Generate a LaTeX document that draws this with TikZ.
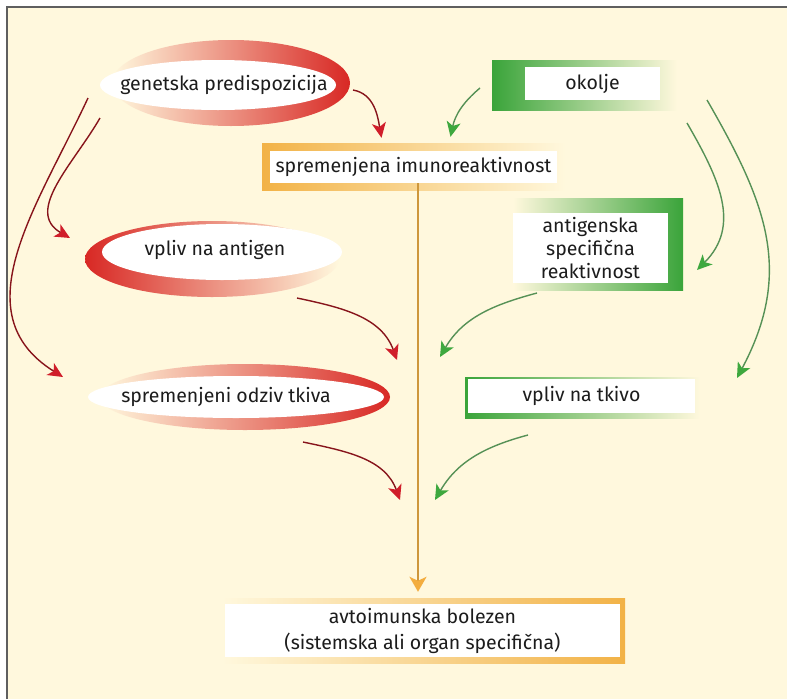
\documentclass[tikz,border=0pt]{standalone}
\usepackage{fontspec}
\setmainfont{Fira Sans}
\usepackage{tikz}
\usetikzlibrary{arrows.meta,positioning}
\definecolor{bgcream}{RGB}{255,248,221}
\definecolor{framegray}{RGB}{95,95,95}
\definecolor{ringred}{RGB}{216,40,36}
\definecolor{ringorange}{RGB}{236,140,80}
\definecolor{boxorange}{RGB}{242,178,70}
\definecolor{leafgreen}{RGB}{58,164,58}
\definecolor{arrowred}{RGB}{208,30,42}
\definecolor{arrowgreen}{RGB}{62,168,62}
\definecolor{textblack}{RGB}{28,28,28}

\begin{document}
\begin{tikzpicture}[x=1pt,y=-1pt,font=\fontsize{19.5}{23}\selectfont,text=textblack,
  boxnode/.style={fill=white,inner sep=0pt,align=center},
  redarrow/.style={draw=arrowred!65!black,line width=1.4pt,
    -{Stealth[length=15pt,width=14pt,inset=4pt,color=arrowred]}},
  greenarrow/.style={draw=arrowgreen!70!black!80,line width=1.4pt,
    -{Stealth[length=15pt,width=14pt,inset=4pt,color=arrowgreen]}}]
  \useasboundingbox (0,0) rectangle (787,699);
  % background
  \fill[bgcream] (7,7) rectangle (787,699);
  \draw[framegray,line width=1.6pt] (7,699) -- (7,7) -- (787,7);
  % red rings
  \shade[left color=bgcream,middle color=ringorange,right color=ringred]
       (231,83) ellipse [x radius=119,y radius=43];
  \fill[white] (218,85) ellipse [x radius=118,y radius=25];
  \shade[left color=ringred,middle color=ringorange,right color=bgcream]
       (212,259) ellipse [x radius=127,y radius=38];
  \fill[white] (222,252) ellipse [x radius=120,y radius=28];
  \shade[left color=bgcream,middle color=ringorange,right color=ringred]
       (245,397) ellipse [x radius=145,y radius=33];
  \fill[white] (236,397) ellipse [x radius=148,y radius=21];
  % frames of the boxes
  \shade[left color=boxorange,right color=bgcream] (262,143) rectangle (565,190);
  \shade[left color=leafgreen,right color=bgcream] (492,60) rectangle (677,110);
  \shade[left color=bgcream,right color=leafgreen] (513,198) rectangle (683,290);
  \shade[left color=leafgreen,right color=bgcream] (465,377) rectangle (700,418);
  \shade[left color=bgcream,right color=boxorange] (222,598) rectangle (625,663);
  % nodes
  \node (gen) at (224,85) {genetska predispozicija};
  \node (ant) at (215,250) {vpliv na antigen};
  \node (odziv) at (226,397) {spremenjeni odziv tkiva};
  \node[boxnode,minimum width=287,minimum height=32] (imuno) at (413.5,167)
       {spremenjena imunoreaktivnost};
  \node[boxnode,minimum width=135,minimum height=33] (okolje) at (592.5,83.5)
       {okolje};
  \node[boxnode,minimum width=155,minimum height=70] (spec) at (590.5,248)
       {antigenska\\specifična\\reaktivnost};
  \node[boxnode,minimum width=227,minimum height=34] (tkivo) at (581.5,396)
       {vpliv na tkivo};
  \node[boxnode,minimum width=395,minimum height=53,font=\fontsize{19.5}{26}\selectfont]
       (avto) at (422.5,630.5) {avtoimunska bolezen\\(sistemska ali organ specifična)};
  % arrow ends
  \coordinate (genR) at (353,90);
  \coordinate (genL1) at (88,98);
  \coordinate (genL2) at (100,118);
  \coordinate (antR) at (297,298);
  \coordinate (odzivR) at (303,442);
  \coordinate (okoljeL) at (480,88);
  \coordinate (okoljeR1) at (687,123);
  \coordinate (okoljeR2) at (707,100);
  \coordinate (specL) at (537,293);
  \coordinate (tkivoL) at (528,435);
  \coordinate (antIn) at (70,238);
  \coordinate (odzivIn) at (63,377);
  \coordinate (specIn) at (697,270);
  \coordinate (tkivoIn) at (737,378);
  \coordinate (redJoin) at (397,360);
  \coordinate (greenJoin) at (440,357);
  \coordinate (redEnd) at (400,500);
  \coordinate (greenEnd) at (435,500);
  % red arrows
  \draw[redarrow] (genR) to[out=-10,in=100] ([xshift=-32pt,yshift=13pt]imuno.north);
  \draw[redarrow] (genL2) to[out=-120,in=150,looseness=1.1] (antIn);
  \draw[redarrow] (genL1) to[out=-115,in=148,looseness=1.1] (odzivIn);
  \draw[redarrow] (antR) to[out=-12,in=110] (redJoin);
  \draw[redarrow] (odzivR) to[out=-12,in=110] (redEnd);
  % green arrows
  \draw[greenarrow] (okoljeL) to[out=-140,in=78] ([xshift=37pt,yshift=14pt]imuno.north);
  \draw[greenarrow] (okoljeR1) to[out=-60,in=45,looseness=1.1] (specIn);
  \draw[greenarrow] (okoljeR2) to[out=-60,in=62,looseness=1.1] (tkivoIn);
  \draw[greenarrow] (specL) to[out=-165,in=60] (greenJoin);
  \draw[greenarrow] (tkivoL) to[out=-165,in=60] (greenEnd);
  % main orange arrow
  \draw[draw=boxorange!85!black,line width=2.4pt,
        -{Stealth[length=15pt,width=17pt,inset=4pt,color=boxorange!90!orange]}]
       ([xshift=4.5pt]imuno.south) -- ([xshift=-4.5pt,yshift=12pt]avto.north);
\end{tikzpicture}
\end{document}
